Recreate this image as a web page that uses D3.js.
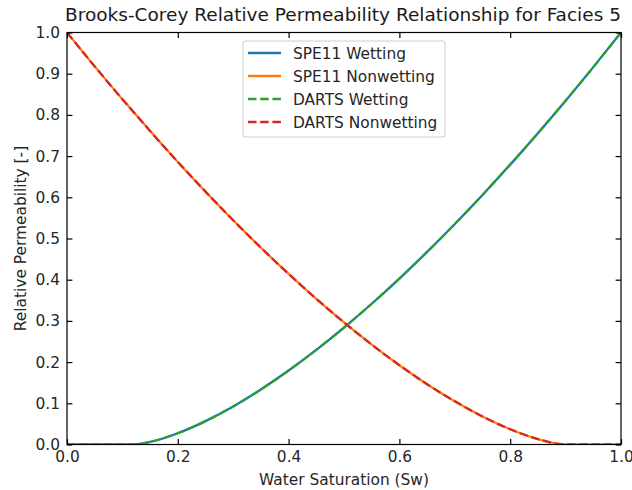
<!DOCTYPE html>
<html>
<head>
<meta charset="utf-8">
<script src="https://cdn.jsdelivr.net/npm/d3@7"></script>
<style>
  html, body { margin: 0; padding: 0; background: #fff; }
  svg { display: block; font-family: "DejaVu Sans", sans-serif; }
</style>
</head>
<body>
<svg id="chart" width="632" height="490"></svg>
<script>
// Water saturation sample points
const saturation = [0, 0.05, 0.10, 0.12, 0.15, 0.20, 0.25, 0.30, 0.35, 0.40, 0.45, 0.50,
  0.55, 0.60, 0.65, 0.70, 0.75, 0.80, 0.85, 0.90, 0.95, 1.00];

// SPE11 relative permeability curves
const spe11Wetting = [0, 0, 0, 0, 0.0063, 0.0274, 0.0568, 0.0925, 0.1336, 0.1795, 0.2296, 0.2838,
  0.3416, 0.4028, 0.4674, 0.5351, 0.6057, 0.6793, 0.7556, 0.8345, 0.9160, 1.0];
const spe11Nonwetting = [1.0, 0.9178, 0.8381, 0.8073, 0.7607, 0.6859, 0.6138, 0.5443, 0.4777, 0.4141, 0.3536, 0.2963,
  0.2425, 0.1925, 0.1464, 0.1048, 0.0680, 0.0370, 0.0131, 0, 0, 0];

// DARTS relative permeability curves
const dartsWetting = [0, 0, 0, 0, 0.0063, 0.0274, 0.0568, 0.0925, 0.1336, 0.1795, 0.2296, 0.2838,
  0.3416, 0.4028, 0.4674, 0.5351, 0.6057, 0.6793, 0.7556, 0.8345, 0.9160, 1.0];
const dartsNonwetting = [1.0, 0.9178, 0.8381, 0.8073, 0.7607, 0.6859, 0.6138, 0.5443, 0.4777, 0.4141, 0.3536, 0.2963,
  0.2425, 0.1925, 0.1464, 0.1048, 0.0680, 0.0370, 0.0131, 0, 0, 0];

const tickValues = [0, 0.2, 0.4, 0.6, 0.8, 1.0];
const yTickValues = [0, 0.1, 0.2, 0.3, 0.4, 0.5, 0.6, 0.7, 0.8, 0.9, 1.0];

const series = [
  { name: "SPE11 Wetting", values: spe11Wetting, color: "#1f77b4", dash: null },
  { name: "SPE11 Nonwetting", values: spe11Nonwetting, color: "#ff7f0e", dash: null },
  { name: "DARTS Wetting", values: dartsWetting, color: "#2ca02c", dash: "8.5,3.7" },
  { name: "DARTS Nonwetting", values: dartsNonwetting, color: "#d62728", dash: "8.5,3.7" }
];

const FONT = 15.4;
const svg = d3.select("#chart");
const m = { left: 67, right: 621, top: 32.5, bottom: 444.5 };

const x = d3.scaleLinear().domain([0, 1]).range([m.left, m.right]);
const y = d3.scaleLinear().domain([0, 1]).range([m.bottom, m.top]);

svg.append("defs").append("clipPath").attr("id", "plot-clip")
  .append("rect")
  .attr("x", m.left).attr("y", m.top)
  .attr("width", m.right - m.left).attr("height", m.bottom - m.top);

// Curves
const line = d3.line()
  .x((d, i) => x(saturation[i]))
  .y(d => y(d))
  .curve(d3.curveMonotoneX);

const plot = svg.append("g").attr("clip-path", "url(#plot-clip)");
series.forEach(s => {
  plot.append("path")
    .datum(s.values)
    .attr("d", line)
    .attr("fill", "none")
    .attr("stroke", s.color)
    .attr("stroke-width", 2.3)
    .attr("stroke-dasharray", s.dash)
    .attr("stroke-linecap", s.dash ? "butt" : "square");
});

// Axes with inward ticks on all four sides
function styleAxis(g) {
  g.select(".domain").remove();
  g.selectAll(".tick line").attr("stroke", "#000").attr("stroke-width", 1.2);
  g.selectAll(".tick text")
    .attr("fill", "#262626")
    .style("font-size", FONT + "px")
    .style("font-family", "'DejaVu Sans', sans-serif");
}

svg.append("g")
  .attr("transform", `translate(0,${m.bottom})`)
  .call(d3.axisBottom(x).tickValues(tickValues).tickFormat(d3.format(".1f"))
    .tickSizeInner(-5.4).tickSizeOuter(0).tickPadding(7))
  .call(styleAxis);

svg.append("g")
  .attr("transform", `translate(0,${m.top})`)
  .call(d3.axisTop(x).tickValues(tickValues).tickFormat("")
    .tickSizeInner(-5.4).tickSizeOuter(0))
  .call(styleAxis);

svg.append("g")
  .attr("transform", `translate(${m.left},0)`)
  .call(d3.axisLeft(y).tickValues(yTickValues).tickFormat(d3.format(".1f"))
    .tickSizeInner(-5.4).tickSizeOuter(0).tickPadding(7))
  .call(styleAxis);

svg.append("g")
  .attr("transform", `translate(${m.right},0)`)
  .call(d3.axisRight(y).tickValues(yTickValues).tickFormat("")
    .tickSizeInner(-5.4).tickSizeOuter(0))
  .call(styleAxis);

// Frame
svg.append("rect")
  .attr("x", m.left).attr("y", m.top)
  .attr("width", m.right - m.left).attr("height", m.bottom - m.top)
  .attr("fill", "none").attr("stroke", "#000").attr("stroke-width", 1.2);

// Title and axis labels
svg.append("text")
  .attr("x", (m.left + m.right) / 2 - 1).attr("y", 21)
  .attr("text-anchor", "middle")
  .attr("fill", "#1a1a1a")
  .style("font-size", "18.5px")
  .text("Brooks-Corey Relative Permeability Relationship for Facies 5");

svg.append("text")
  .attr("x", (m.left + m.right) / 2).attr("y", 484.5)
  .attr("text-anchor", "middle")
  .attr("fill", "#262626")
  .style("font-size", FONT + "px")
  .text("Water Saturation (Sw)");

svg.append("text")
  .attr("transform", `translate(26,${(m.top + m.bottom) / 2}) rotate(-90)`)
  .attr("text-anchor", "middle")
  .attr("fill", "#262626")
  .style("font-size", FONT + "px")
  .text("Relative Permeability [-]");

// Legend
const legend = svg.append("g").attr("transform", "translate(243,41)");
legend.append("rect")
  .attr("width", 202).attr("height", 96)
  .attr("rx", 3).attr("ry", 3)
  .attr("fill", "#fff").attr("fill-opacity", 0.8)
  .attr("stroke", "#d0d0d0").attr("stroke-width", 1.1);

series.forEach((s, i) => {
  const row = legend.append("g").attr("transform", `translate(0,${12 + i * 23})`);
  row.append("line")
    .attr("x1", 5).attr("x2", 38).attr("y1", 0).attr("y2", 0)
    .attr("stroke", s.color).attr("stroke-width", 2.3)
    .attr("stroke-dasharray", s.dash);
  row.append("text")
    .attr("x", 50).attr("y", 5.5)
    .attr("fill", "#262626")
    .style("font-size", FONT + "px")
    .text(s.name);
});
</script>
</body>
</html>
